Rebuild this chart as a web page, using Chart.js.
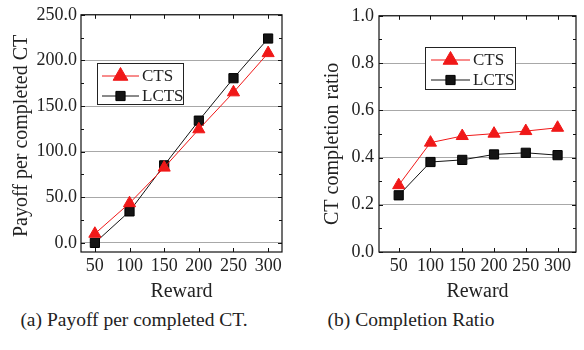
<!DOCTYPE html>
<html lang="en">
<head>
<meta charset="UTF-8">
<title>Payoff and completion ratio vs reward</title>
<script src="https://cdn.jsdelivr.net/npm/chart.js"></script>
<style>
body {
  margin: 0;
  background: #fff;
  width: 584px;
  height: 350px;
  position: relative;
  overflow: hidden;
  font-family: 'Liberation Serif', 'Times New Roman', serif;
}
.panel { position: absolute; top: 0; }
#leftPanel { left: 0; }
#rightPanel { left: 290px; }
.caption {
  position: absolute;
  top: 309px;
  font-size: 19.5px;
  color: #222;
  white-space: nowrap;
  transform: translateX(-50%);
}
</style>
</head>
<body>
<div class="panel" id="leftPanel"><canvas id="payoffChart" width="290" height="305"></canvas></div>
<div class="panel" id="rightPanel"><canvas id="ratioChart" width="294" height="305"></canvas></div>
<div class="caption" style="left:134px">(a) Payoff per completed CT.</div>
<div class="caption" style="left:411px">(b) Completion Ratio</div>

<script>
// data
const rewards = [50, 100, 150, 200, 250, 300];
const payoffCTS = [10, 43.5, 82.5, 124.5, 165, 208];
const payoffLCTS = [0, 34.5, 85, 134, 180.5, 224];
const ratioCTS = [0.283, 0.463, 0.491, 0.501, 0.512, 0.526];
const ratioLCTS = [0.24, 0.381, 0.39, 0.413, 0.42, 0.41];
const payoffTicks = [0, 50, 100, 150, 200, 250];
const ratioTicks = [0, 0.2, 0.4, 0.6, 0.8, 1.0];

const FONT = "'Liberation Serif', 'Times New Roman', serif";
const RED = 'rgb(240, 24, 24)';
const BLACK = '#141414';
const TEXT = '#222';

function points(ys) {
  return rewards.map((x, i) => ({ x: x, y: ys[i] }));
}

function makeSets(ctsVals, lctsVals) {
  return [
    {
      label: 'CTS',
      data: points(ctsVals),
      borderColor: RED,
      backgroundColor: RED,
      borderWidth: 1,
      pointStyle: 'triangle',
      pointRadius: 7,
      pointBorderWidth: 1,
      pointBorderColor: RED,
      pointBackgroundColor: RED
    },
    {
      label: 'LCTS',
      data: points(lctsVals),
      borderColor: BLACK,
      backgroundColor: BLACK,
      borderWidth: 1,
      pointStyle: 'rect',
      pointRadius: 6.5,
      pointBorderWidth: 1,
      pointBorderColor: '#000',
      pointBackgroundColor: BLACK
    }
  ];
}

// plot frame, inward ticks and the boxed legend
const frameTicks = {
  id: 'frameTicks',
  afterDatasetsDraw(chart, args, opts) {
    const ctx = chart.ctx;
    const a = chart.chartArea;
    const xs = chart.scales.x, ys = chart.scales.y;
    ctx.save();
    ctx.strokeStyle = '#111';
    ctx.lineWidth = 1.2;
    ctx.strokeRect(a.left, a.top, a.right - a.left, a.bottom - a.top);

    ctx.lineWidth = 1;
    ctx.beginPath();
    rewards.forEach(v => {
      const px = Math.round(xs.getPixelForValue(v)) + 0.5;
      ctx.moveTo(px, a.bottom); ctx.lineTo(px, a.bottom - 4);
      ctx.moveTo(px, a.top); ctx.lineTo(px, a.top + 4);
    });
    const ticks = opts.yTicks;
    const step = ticks[1] - ticks[0];
    ticks.forEach((v, i) => {
      const all = [[v, 4]];
      if (i < ticks.length - 1) all.push([v + step / 2, 3]);
      all.forEach(([t, len]) => {
        const py = Math.round(ys.getPixelForValue(t)) + 0.5;
        ctx.moveTo(a.left, py); ctx.lineTo(a.left + len, py);
        ctx.moveTo(a.right, py); ctx.lineTo(a.right - len, py);
      });
    });
    ctx.stroke();

    // legend
    const lg = opts.legend;
    ctx.fillStyle = '#fff';
    ctx.fillRect(lg.x, lg.y, lg.w, lg.h);
    ctx.strokeStyle = '#222';
    ctx.lineWidth = 1;
    ctx.strokeRect(lg.x + 0.5, lg.y + 0.5, lg.w, lg.h);
    chart.data.datasets.forEach((ds, i) => {
      const ry = lg.rowY[i];
      ctx.strokeStyle = ds.borderColor;
      ctx.beginPath();
      ctx.moveTo(lg.lineX1, ry); ctx.lineTo(lg.lineX2, ry);
      ctx.stroke();
      ctx.fillStyle = ds.pointBackgroundColor;
      ctx.strokeStyle = ds.pointBorderColor;
      Chart.helpers.drawPoint(ctx, {
        pointStyle: ds.pointStyle,
        radius: ds.pointStyle === 'triangle' ? 8.5 : 6.5,
        rotation: 0,
        borderWidth: 1
      }, (lg.lineX1 + lg.lineX2) / 2, ry);
      ctx.fillStyle = TEXT;
      ctx.font = '17px ' + FONT;
      ctx.textBaseline = 'middle';
      ctx.textAlign = 'left';
      ctx.fillText(ds.label, lg.textX, ry + 1);
    });
    ctx.restore();
  }
};

function makeOptions(cfg) {
  return {
    responsive: false,
    animation: false,
    layout: { padding: { top: cfg.top, right: cfg.right, left: 0, bottom: 0 } },
    plugins: {
      legend: { display: false },
      tooltip: { enabled: false },
      frameTicks: { yTicks: cfg.yTicks, legend: cfg.legend }
    },
    scales: {
      x: {
        type: 'linear',
        min: cfg.xMin,
        max: cfg.xMax,
        afterBuildTicks: s => { s.ticks = rewards.map(v => ({ value: v })); },
        afterFit: s => { s.height = 53; },
        grid: { display: false, drawTicks: false },
        border: { display: false },
        ticks: {
          padding: 3,
          color: TEXT,
          font: { family: FONT, size: 18 },
          callback: v => String(v)
        },
        title: {
          display: true,
          text: 'Reward',
          color: TEXT,
          font: { family: FONT, size: 20 },
          padding: { top: 0, bottom: 1 }
        }
      },
      y: {
        min: cfg.yMin,
        max: cfg.yMax,
        afterBuildTicks: s => { s.ticks = cfg.yTicks.map(v => ({ value: v })); },
        afterFit: s => { s.width = cfg.yWidth; },
        grid: { color: '#a8a8a8', lineWidth: 1, drawTicks: false },
        border: { display: false },
        ticks: {
          padding: cfg.tickPad,
          color: TEXT,
          font: { family: FONT, size: 18 },
          callback: v => Number(v).toFixed(1)
        },
        title: {
          display: true,
          text: cfg.yTitle,
          color: TEXT,
          font: { family: FONT, size: 20 },
          padding: { top: cfg.titlePad, bottom: 0 }
        }
      }
    }
  };
}

new Chart(document.getElementById('payoffChart'), {
  type: 'line',
  data: { datasets: makeSets(payoffCTS, payoffLCTS) },
  options: makeOptions({
    top: 12, right: 7.5, xMin: 30, xMax: 320,
    yMin: -10, yMax: 250, yTicks: payoffTicks, yWidth: 81, tickPad: 4,
    yTitle: 'Payoff per completed CT ', titlePad: 10,
    legend: { x: 97, y: 63, w: 86, h: 41, lineX1: 102, lineX2: 139, textX: 142, rowY: [76, 96] }
  }),
  plugins: [frameTicks]
});

// trailing spaces push the rotated title a little lower, as in the figure
new Chart(document.getElementById('ratioChart'), {
  type: 'line',
  data: { datasets: makeSets(ratioCTS, ratioLCTS) },
  options: makeOptions({
    top: 11, right: 4.7, xMin: 19, xMax: 329,
    yMin: 0, yMax: 1, yTicks: ratioTicks, yWidth: 89, tickPad: 5,
    yTitle: 'CT completion ratio    ', titlePad: 31,
    legend: { x: 135, y: 47, w: 90, h: 42, lineX1: 141, lineX2: 180, textX: 183, rowY: [60, 80] }
  }),
  plugins: [frameTicks]
});
</script>
</body>
</html>
